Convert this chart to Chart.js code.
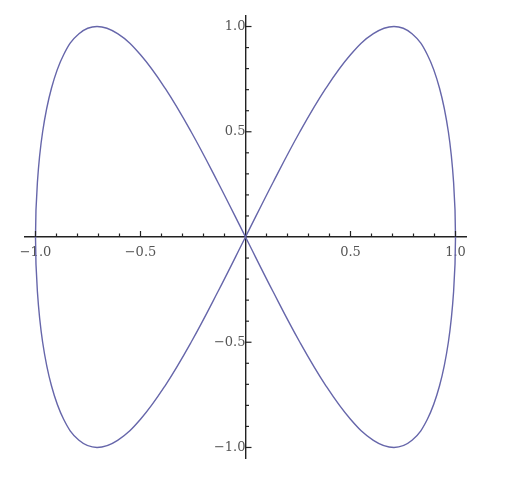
<!DOCTYPE html>
<html>
<head>
<meta charset="utf-8">
<script src="https://cdn.jsdelivr.net/npm/chart.js@4.4.1/dist/chart.umd.min.js"></script>
<style>
  html, body { margin: 0; padding: 0; background: #fff; }
  #wrap { width: 506px; height: 486px; }
</style>
</head>
<body>
<div id="wrap"><canvas id="curveChart"></canvas></div>
<script>
// points
const curveX = [
  0, 0.131, 0.259, 0.383, 0.500, 0.609, 0.707, 0.793, 0.866, 0.924, 0.966, 0.991, 1.000,
  0.991, 0.966, 0.924, 0.866, 0.793, 0.707, 0.609, 0.500, 0.383, 0.259, 0.131, 0,
  -0.131, -0.259, -0.383, -0.500, -0.609, -0.707, -0.793, -0.866, -0.924, -0.966, -0.991, -1.000,
  -0.991, -0.966, -0.924, -0.866, -0.793, -0.707, -0.609, -0.500, -0.383, -0.259, -0.131, 0];
const curveY = [
  0, 0.259, 0.500, 0.707, 0.866, 0.966, 1.000, 0.966, 0.866, 0.707, 0.500, 0.259, 0,
  -0.259, -0.500, -0.707, -0.866, -0.966, -1.000, -0.966, -0.866, -0.707, -0.500, -0.259, 0,
  0.259, 0.500, 0.707, 0.866, 0.966, 1.000, 0.966, 0.866, 0.707, 0.500, 0.259, 0,
  -0.259, -0.500, -0.707, -0.866, -0.966, -1.000, -0.966, -0.866, -0.707, -0.500, -0.259, 0];

// labelled ticks (no label at 0)
const majorTicks = [-1.0, -0.5, 0.5, 1.0];
const majorLabels = ["\u22121.0", "\u22120.5", "0.5", "1.0"];
// all tick marks, 0.1 apart
const allTicks = [-1.0, -0.9, -0.8, -0.7, -0.6, -0.5, -0.4, -0.3, -0.2, -0.1,
  0.1, 0.2, 0.3, 0.4, 0.5, 0.6, 0.7, 0.8, 0.9, 1.0];

const points = curveX.map((x, i) => ({ x: x, y: curveY[i] }));

function labelFor(v) {
  const i = majorTicks.findIndex(m => Math.abs(m - v) < 1e-6);
  return i >= 0 ? majorLabels[i] : "";
}

// small tick marks: x ticks point up, y ticks point right
const tickMarks = {
  id: "tickMarks",
  afterDraw(chart) {
    const ctx = chart.ctx;
    const xs = chart.scales.x, ys = chart.scales.y;
    const x0 = xs.getPixelForValue(0), y0 = ys.getPixelForValue(0);
    ctx.save();
    ctx.strokeStyle = "#222";
    ctx.lineWidth = 1.2;
    allTicks.forEach(v => {
      const major = Math.abs(v * 2 - Math.round(v * 2)) < 1e-6;
      const len = major ? 6 : 3.5;
      const px = xs.getPixelForValue(v);
      ctx.beginPath();
      ctx.moveTo(px, y0);
      ctx.lineTo(px, y0 - len);
      ctx.stroke();
      const py = ys.getPixelForValue(v);
      ctx.beginPath();
      ctx.moveTo(x0, py);
      ctx.lineTo(x0 + len, py);
      ctx.stroke();
    });
    ctx.restore();
  }
};

const axisFont = { family: "'DejaVu Serif', serif", size: 13 };

new Chart(document.getElementById("curveChart"), {
  type: "scatter",
  data: {
    datasets: [{
      data: points,
      showLine: true,
      borderColor: "#6666aa",
      borderWidth: 1.4,
      pointRadius: 0,
      tension: 0.4,
      fill: false
    }]
  },
  options: {
    responsive: true,
    maintainAspectRatio: false,
    animation: false,
    layout: { padding: { left: 25, right: 40, top: 16, bottom: 28 } },
    plugins: { legend: { display: false }, tooltip: { enabled: false } },
    scales: {
      x: {
        type: "linear",
        min: -1.05,
        max: 1.05,
        position: { y: 0 },
        grid: { display: false, drawTicks: false },
        border: { display: true, color: "#222", width: 1.4 },
        afterBuildTicks: s => { s.ticks = majorTicks.map(v => ({ value: v })); },
        ticks: { color: "#555", font: axisFont, padding: 8, maxRotation: 0, autoSkip: false, callback: v => labelFor(v) }
      },
      y: {
        type: "linear",
        min: -1.05,
        max: 1.05,
        position: { x: 0 },
        grid: { display: false, drawTicks: false },
        border: { display: true, color: "#222", width: 1.4 },
        afterBuildTicks: s => { s.ticks = majorTicks.map(v => ({ value: v })); },
        ticks: { color: "#555", font: axisFont, padding: 5, autoSkip: false, callback: v => labelFor(v) }
      }
    }
  },
  plugins: [tickMarks]
});
</script>
</body>
</html>
